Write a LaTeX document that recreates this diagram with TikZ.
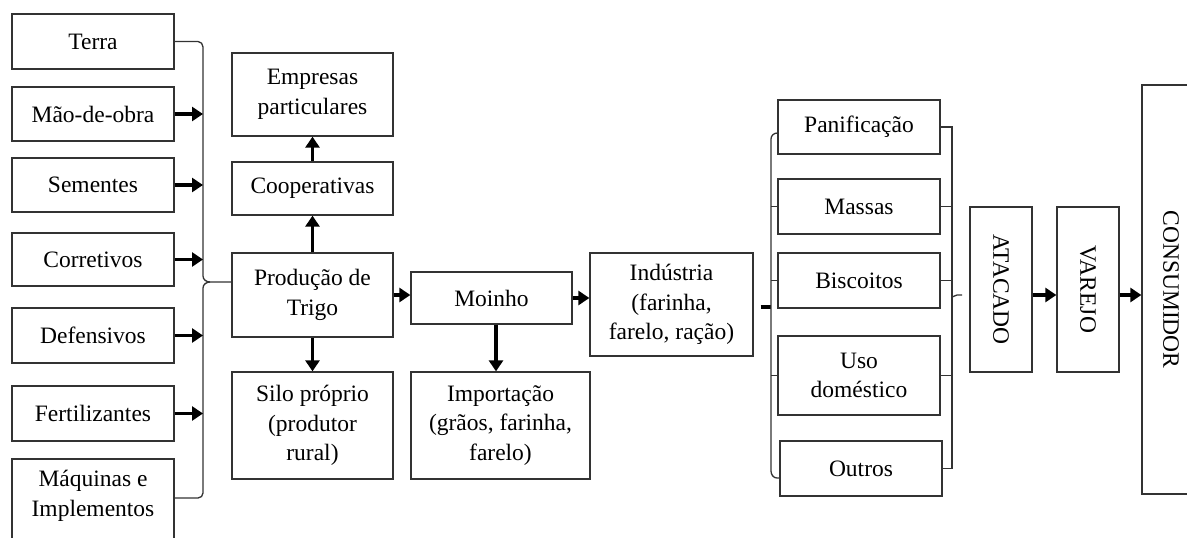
\documentclass[tikz,border=0pt]{standalone}
\usepackage{fontspec}
\setmainfont{Liberation Serif}
\usetikzlibrary{arrows.meta}
\begin{document}
\begin{tikzpicture}[x=1pt,y=-1pt,
 box/.style={draw=black!80, line width=1.3pt, align=center, inner sep=0pt, font=\fontsize{23.5}{29.5}\selectfont},
 arr/.style={line width=3.4pt, -{Triangle[length=11pt,width=14pt]}},
 thinl/.style={draw=black!80, line width=1.3pt},
 thickl/.style={line width=3.2pt}]
\useasboundingbox (0,0) rectangle (1187,538);
\fill[white] (0,0) rectangle (1187,538);
% left column
\node[box, minimum width=162, minimum height=55] (terra) at (93,41.5) {Terra};
\node[box, minimum width=162, minimum height=54] (mao) at (93,114) {Mão-de-obra};
\node[box, minimum width=162, minimum height=54] (sem) at (93,185) {Sementes};
\node[box, minimum width=162, minimum height=53] (corr) at (93,259.5) {Corretivos};
\node[box, minimum width=162, minimum height=55] (def) at (93,335.5) {Defensivos};
\node[box, minimum width=162, minimum height=55] (fert) at (93,413.5) {Fertilizantes};
\node[box, minimum width=162, minimum height=90, label={[align=center,font=\fontsize{23.5}{29.5}\selectfont,yshift=8pt]center:Máquinas e\\Implementos}] (maq) at (93,504) {};
% middle
\node[box, minimum width=161, minimum height=83] (emp) at (312.5,94.5) {Empresas\\particulares};
\node[box, minimum width=161, minimum height=53] (coop) at (312.5,188.5) {Cooperativas};
\node[box, minimum width=161, minimum height=84] (prod) at (312.5,295) {Produção de\\Trigo};
\node[box, minimum width=161, minimum height=107] (silo) at (312.5,425.5) {Silo próprio\\(produtor\\rural)};
\node[box, minimum width=161, minimum height=52] (moi) at (491.5,298) {Moinho};
\node[box, minimum width=179, minimum height=107] (imp) at (500.5,425.5) {Importação\\(grãos, farinha,\\farelo)};
\node[box, minimum width=163, minimum height=103] (ind) at (671.5,304.5) {Indústria\\(farinha,\\farelo, ração)};
% right column
\node[box, minimum width=162, minimum height=54] (pan) at (859,127) {Panificação};
\node[box, minimum width=162, minimum height=55] (mas) at (859,206.5) {Massas};
\node[box, minimum width=162, minimum height=55] (bis) at (859,280.5) {Biscoitos};
\node[box, minimum width=162, minimum height=79] (uso) at (859,375.5) {Uso\\doméstico};
\node[box, minimum width=162, minimum height=55] (out) at (861,468.5) {Outros};
\node[box, minimum width=165, minimum height=62, rotate=-90] (atac) at (1001,289.5) {ATACADO};
\node[box, minimum width=165, minimum height=62, rotate=-90] (var) at (1088,289.5) {VAREJO};
\node[box, minimum width=409, minimum height=58, rotate=-90] (cons) at (1171,289.5) {CONSUMIDOR};
% left bracket
\coordinate (lb) at (203,0);
\coordinate (tip) at (232,282);
\draw[thinl] (terra.east) -- (198,41.5) to[out=0,in=90] (203,47) -- (203,276)
  to[out=-90,in=180] (210,282) -- (tip);
\draw[thinl] (210,282) to[out=180,in=90] (203,288) -- (203,493)
  to[out=-90,in=0] (198,498) -- (maq.east |- 0,498);
\foreach \n in {mao,sem,corr,def,fert}
  \draw[arr] (\n.east) -- (\n.east -| lb);
% middle arrows
\draw[arr] (prod.north) -- (coop.south);
\draw[arr] (coop.north) -- (emp.south);
\draw[arr] (prod.south) -- (silo.north);
\draw[arr] (prod.east) -- (prod.east -| moi.west);
\draw[arr] (moi.east) -- (moi.east -| ind.west);
\draw[arr] ([xshift=4.5pt]moi.south) -- ([xshift=4.5pt]moi.south |- imp.north);
% right bracket (left side)
\coordinate (rb) at (771,0);
\draw[thickl] ([shift={(7pt,-2.5pt)}]ind.east) -- ([yshift=-2.5pt]ind.east -| rb);
\draw[thinl] (pan.west |- 0,133) to[out=180,in=90] (771,139) -- (771,471)
  to[out=-90,in=180] (777,478) -- (out.west |- 0,478);
\foreach \n in {mas,bis,uso}
  \draw[thinl] (\n.west) -- (\n.west -| rb);
% right bracket (right side)
\coordinate (rc) at (952,0);
\draw[thinl] (pan.east) -- (pan.east -| rc) -- (out.east -| rc) -- (out.east);
\foreach \n in {mas,bis,uso}
  \draw[thinl] (\n.east) -- (\n.east -| rc);
\draw[thinl] (952,297) to[out=0,in=180] (957,295) -- (962,295);
% right arrows
\draw[arr] ([yshift=-5.5pt]atac.north) -- ([yshift=-5.5pt]atac.north -| var.south);
\draw[arr] ([yshift=-5.5pt]var.north) -- ([yshift=-5.5pt]var.north -| cons.south);
\end{tikzpicture}
\end{document}
